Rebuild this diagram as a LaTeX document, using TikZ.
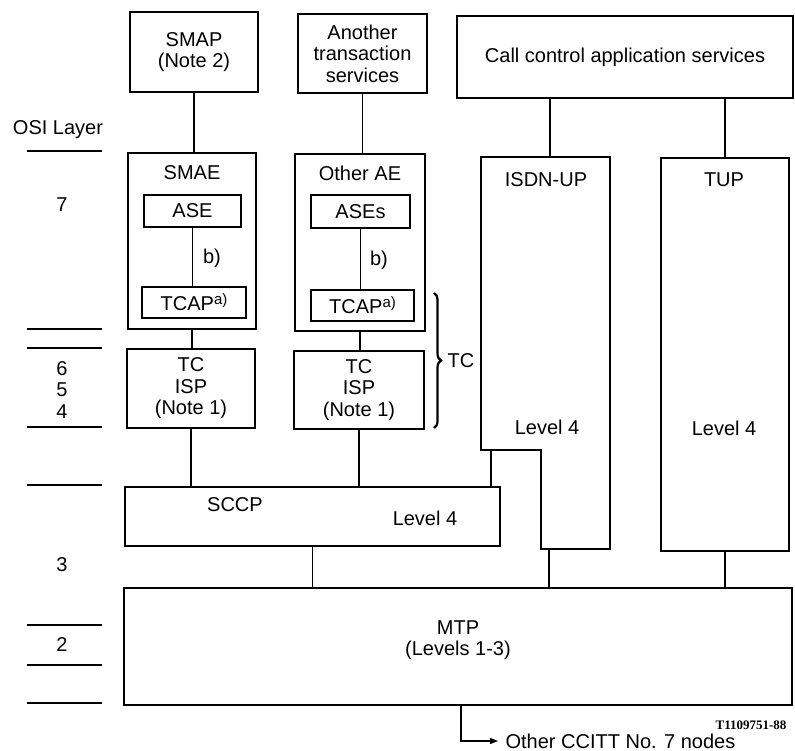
\documentclass[tikz,border=0pt]{standalone}
\usepackage{fontspec}
\setmainfont{Liberation Sans}
\newfontfamily\tagfont{Liberation Serif}
\usetikzlibrary{arrows.meta,decorations.pathreplacing}
\newcommand{\notea}{\raisebox{6pt}{\fontsize{15}{15}\selectfont a)}}

\begin{document}
\begin{tikzpicture}[x=1pt,y=-1pt,line width=1.2pt,
  every node/.style={font=\fontsize{20}{21.5}\selectfont,inner sep=0pt},
  box/.style={draw,rectangle,align=center}]
\useasboundingbox (0,0) rectangle (795,751);
\foreach \y in {151,329,348,427,485,625,665,703}
  \draw (27,\y) -- (102,\y);
\node (osi) at (58,130) {OSI Layer};
\node (lay7) at (62,205) {7};
\node (lay654) at (62,390) [align=center] {6\\5\\4};
\node (lay3) at (62,565) {3};
\node (lay2) at (62,645) {2};
\node[box,minimum width=128pt,minimum height=80pt] (smap) at (194,52) {SMAP\\(Note 2)};
\node[box,minimum width=129pt,minimum height=79pt] (another) at (362.5,53.5) {Another\\transaction\\services};
\node[box,minimum width=336pt,minimum height=82pt] (call) at (625,57) {Call control application services};
\node[box,minimum width=128pt,minimum height=176pt] (smae) at (192,241) {};
\node (smaetitle) at (192,173) {SMAE};
\node[box,minimum width=97pt,minimum height=32pt] (ase) at (192.5,211) {ASE};
\node[box,minimum width=104pt,minimum height=31pt] (tcapa) at (194,302.5) {TCAP\notea};
\node[box,minimum width=130pt,minimum height=177pt] (otherae) at (360,242.5) {};
\node (otheraetitle) at (360,173) {Other AE};
\node[box,minimum width=99pt,minimum height=33pt] (ases) at (360.5,211.5) {ASEs};
\node[box,minimum width=103pt,minimum height=31pt] (tcapb) at (362.5,305.5) {TCAP\notea};
\node[box,minimum width=128pt,minimum height=79pt] (tcispa) at (191,388.5) {TC\\ISP\\(Note 1)};
\node[box,minimum width=130pt,minimum height=78pt] (tcispb) at (359,390) {TC\\ISP\\(Note 1)};
\node[box,minimum width=375pt,minimum height=59pt] (sccp) at (312.5,516.5) {};
\node (sccptitle) at (235,505) {SCCP};
\node (sccplevel) at (425,518) {Level 4};
\draw (481,157) coordinate (isdnnw) -- (610,157) -- (610,549) -- (541,549) -- (541,450) -- (481,450) coordinate (isdnsw) -- cycle;
\coordinate (isdntop) at (550,157);
\coordinate (isdnstep) at (491,450);
\coordinate (isdnfoot) at (549,549);
\node (isdntitle) at (546,180) {ISDN-UP};
\node (isdnlevel) at (547,427) {Level 4};
\node[box,minimum width=128pt,minimum height=393pt] (tup) at (725,354.5) {};
\node (tuptitle) at (724,180) {TUP};
\node (tuplevel) at (724,428) {Level 4};
\node[box,minimum width=668pt,minimum height=117pt] (mtp) at (458,646.5) {};
\node[align=center] (mtptitle) at (458,640) {MTP\\(Levels 1-3)};
\draw (smap.south) -- (smap.south |- smae.north);
\draw (another.south) -- (another.south |- otherae.north);
\draw (isdntop |- call.south) -- (isdntop);
\draw (tup.north |- call.south) -- (tup.north);
\draw (ase.south) -- (ase.south |- tcapa.north);
\node (ba) at (212,258) {b)};
\draw (ases.south) -- (ases.south |- tcapb.north);
\node (bb) at (379,260) {b)};
\draw (smae.south) -- (smae.south |- tcispa.north);
\draw (otherae.south) -- (otherae.south |- tcispb.north);
\draw (tcispa.south) -- (tcispa.south |- sccp.north);
\draw (tcispb.south) -- (tcispb.south |- sccp.north);
\draw (isdnstep) -- (isdnstep |- sccp.north);
\draw (sccp.south) -- (sccp.south |- mtp.north);
\draw (isdnfoot) -- (isdnfoot |- mtp.north);
\draw (tup.south) -- (tup.south |- mtp.north);
\draw[decorate,decoration={brace,amplitude=7pt},line width=2.2pt] (434,293) -- (434,428);
\node[anchor=west] (tc) at (447,361) {TC};
\node[anchor=west] (othernodes) at (505,741) {Other CCITT No. 7 nodes};
\draw[-{Triangle[length=8pt,width=6pt]},shorten >=7pt] ([xshift=3pt]mtp.south) |- (othernodes.west);
\node[font=\tagfont\bfseries\fontsize{13}{15}\selectfont] (figtag) at (751,725) {T1109751-88};
\end{tikzpicture}
\end{document}
